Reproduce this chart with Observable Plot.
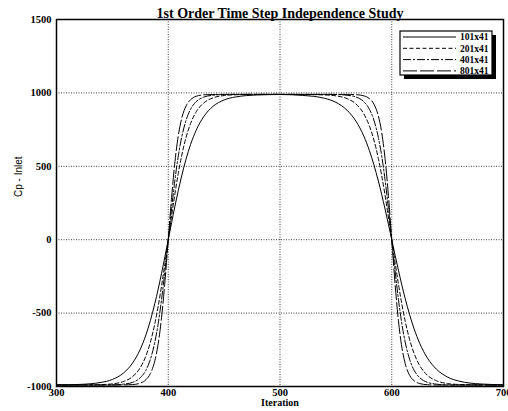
<!DOCTYPE html>
<html>
<head>
<meta charset="utf-8">
<script src="https://cdn.jsdelivr.net/npm/d3@7"></script>
<script src="https://cdn.jsdelivr.net/npm/@observablehq/plot@0.6"></script>
<style>
  html, body { margin: 0; padding: 0; background: #fff; overflow: hidden; }
  #chart { position: relative; width: 508px; height: 411px; }
</style>
</head>
<body>
<div id="chart"></div>
<script>
const title = "1st Order Time Step Independence Study";
const xLabel = "Iteration";
const yLabel = "Cp - Inlet";
const seriesNames = ["101x41", "201x41", "401x41", "801x41"];
const xTicks = [300, 400, 500, 600, 700];
const yTicks = [-1000, -500, 0, 500, 1000, 1500];

const iterations = [300,320,340,350,360,368,375,380,384,388,391,394,397,400,403,406,409,412,416,420,425,432,440,450,460,480,500,
  520,540,550,560,568,575,580,584,588,591,594,597,600,603,606,609,612,616,620,625,632,640,650,660,680,700];

const cp101 = [-989,-986,-972,-952,-908,-841,-746,-649,-551,-434,-336,-229,-116,0,116,229,336,434,551,649,746,841,908,952,972,986,989,
  983,963,936,882,807,706,607,511,400,308,209,106,0,-106,-209,-308,-400,-511,-607,-706,-807,-882,-936,-963,-983,-988];
const cp201 = [-990,-990,-987,-982,-966,-933,-871,-792,-699,-572,-453,-315,-162,0,162,315,453,572,699,792,871,933,966,982,987,990,990,
  989,986,980,961,924,857,775,680,554,437,303,155,0,-155,-303,-437,-554,-680,-775,-857,-924,-961,-980,-986,-989,-990];
const cp401 = [-990,-990,-990,-989,-984,-972,-940,-889,-815,-697,-571,-408,-213,0,213,408,571,697,815,889,940,972,984,989,990,990,990,
  990,990,989,984,972,940,889,815,697,571,408,213,0,-213,-408,-571,-697,-815,-889,-940,-972,-984,-989,-990,-990,-990];
const cp801 = [-990,-990,-990,-990,-989,-987,-977,-954,-912,-825,-709,-532,-288,0,288,532,709,825,912,954,977,987,989,990,990,990,990,
  990,990,990,990,988,980,961,924,843,731,554,303,0,-303,-554,-731,-843,-924,-961,-980,-988,-990,-990,-990,-990,-990];

const seriesValues = [cp101, cp201, cp401, cp801];
const dashes = [null, "4,2.5", "8,2,2,2", "14,3"];

const serif = "'Liberation Serif', 'DejaVu Serif', serif";
const plain = d => String(d);

const lineMarks = seriesValues.map((vals, i) =>
  Plot.line(iterations.map((it, j) => ({iteration: it, cp: vals[j], series: seriesNames[i]})), {
    x: "iteration", y: "cp", stroke: "black", strokeWidth: 1,
    strokeDasharray: dashes[i], curve: "monotone-x"
  })
);

const plot = Plot.plot({
  width: 508,
  height: 411,
  marginLeft: 56,
  marginRight: 5,
  marginTop: 19,
  marginBottom: 25,
  style: {background: "white", overflow: "hidden"},
  x: {domain: [300, 700], ticks: xTicks, tickFormat: plain},
  y: {domain: [-1000, 1500], ticks: yTicks, tickFormat: plain},
  marks: [
    Plot.gridX([400, 500, 600], {stroke: "black", strokeOpacity: 0.75, strokeDasharray: "1,1.5", strokeWidth: 1}),
    Plot.gridY([-500, 0, 500, 1000], {stroke: "black", strokeOpacity: 0.75, strokeDasharray: "1,1.5", strokeWidth: 1}),
    ...lineMarks,
    Plot.frame({stroke: "black", strokeWidth: 1.5}),
    Plot.axisX({ticks: xTicks, tickFormat: plain, tickSize: 0, tickPadding: 2, label: null,
      fontFamily: serif, fontWeight: "bold", fontSize: 10.5}),
    Plot.axisY({ticks: yTicks, tickFormat: plain, tickSize: 0, tickPadding: 5, label: null,
      fontFamily: serif, fontWeight: "bold", fontSize: 10.5}),
    Plot.text([title], {frameAnchor: "top", dy: -11, fontFamily: serif, fontWeight: "bold", fontSize: 14, fill: "black"}),
    Plot.text([xLabel], {frameAnchor: "bottom", dy: 19, fontFamily: serif, fontWeight: "bold", fontSize: 10, fill: "black"}),
    Plot.text([yLabel], {frameAnchor: "left", dx: -38, dy: -6, rotate: -90,
      fontFamily: "'Liberation Sans Narrow', 'Liberation Sans', sans-serif", fontSize: 10, fill: "black"})
  ]
});

document.getElementById("chart").appendChild(plot);

// Legend box with drop shadow (top right of the frame)
const svg = d3.select(plot);
const lg = svg.append("g").attr("class", "legend").attr("text-anchor", "start");
const bx = 400, by = 31, bw = 92, bh = 44;
lg.append("rect").attr("x", bx + 4).attr("y", by + 4).attr("width", bw).attr("height", bh).attr("fill", "black");
lg.append("rect").attr("x", bx).attr("y", by).attr("width", bw).attr("height", bh)
  .attr("fill", "white").attr("stroke", "black").attr("stroke-width", 1.2);
seriesNames.forEach((name, i) => {
  const yy = by + 6 + i * 11.3;
  lg.append("line").attr("x1", bx + 3).attr("x2", bx + 56).attr("y1", yy).attr("y2", yy)
    .attr("stroke", "black").attr("stroke-width", 1)
    .attr("stroke-dasharray", dashes[i]);
  lg.append("text").attr("x", bx + 60).attr("y", yy).attr("dy", "0.35em")
    .attr("text-anchor", "start")
    .attr("font-family", serif).attr("font-weight", "bold").attr("font-size", 9.5)
    .attr("fill", "black").text(name);
});
</script>
</body>
</html>
